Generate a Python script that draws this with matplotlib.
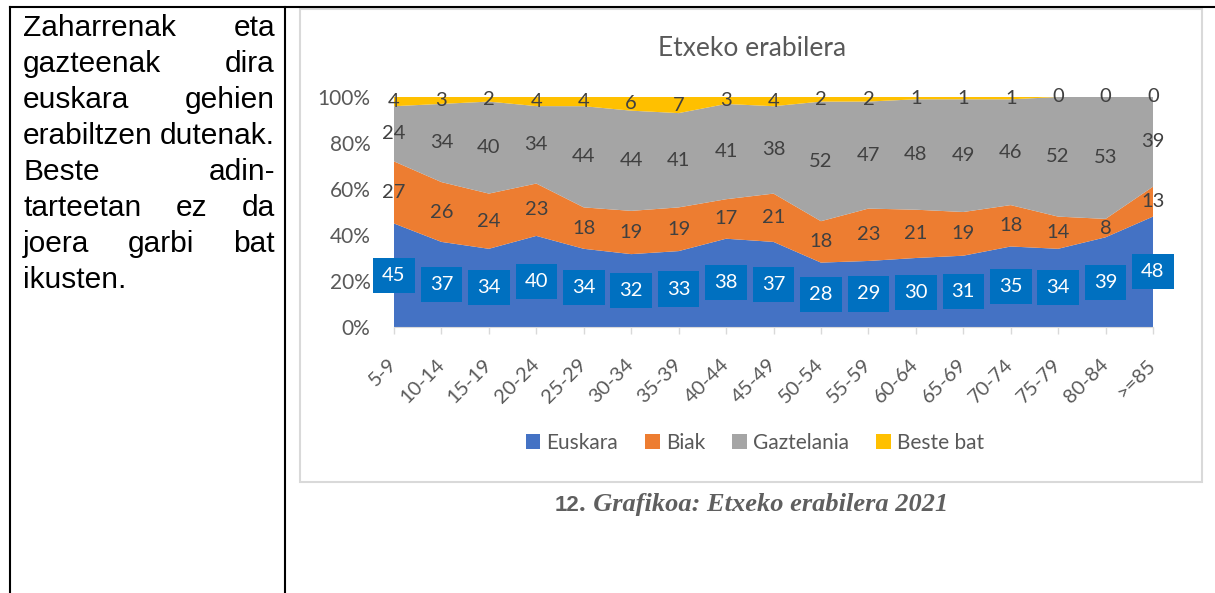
import matplotlib
matplotlib.use('Agg')
import matplotlib.pyplot as plt
import numpy as np
from matplotlib.patches import Rectangle, Patch
from matplotlib.lines import Line2D

# adin-tarteak eta erantzunak (%)
ages = ['5-9', '10-14', '15-19', '20-24', '25-29', '30-34', '35-39', '40-44',
        '45-49', '50-54', '55-59', '60-64', '65-69', '70-74', '75-79', '80-84', '>=85']
euskara = [45, 37, 34, 40, 34, 32, 33, 38, 37, 28, 29, 30, 31, 35, 34, 39, 48]
biak = [27, 26, 24, 23, 18, 19, 19, 17, 21, 18, 23, 21, 19, 18, 14, 8, 13]
gaztelania = [24, 34, 40, 34, 44, 44, 41, 41, 38, 52, 47, 48, 49, 46, 52, 53, 39]
beste = [4, 3, 2, 4, 4, 6, 7, 3, 4, 2, 2, 1, 1, 1, 0, 0, 0]
series_names = ['Euskara', 'Biak', 'Gaztelania', 'Beste bat']
colors = ['#4472C4', '#ED7D31', '#A5A5A5', '#FFC000']
yticks = [0, 20, 40, 60, 80, 100]

text_lines = [['Zaharrenak', 'eta'], ['gazteenak', 'dira'], ['euskara', 'gehien'],
              ['erabiltzen', 'dutenak.'], ['Beste', 'adin-'], ['tarteetan', 'ez', 'da'],
              ['joera', 'garbi', 'bat'], ['ikusten.']]

W, H = 1215, 593
CHART_FONT = 'Lato'
GREY = '#595959'
DARK = '#404040'


def fx(px):
    return px / W


def fy(py):
    return 1 - py / H


fig = plt.figure(figsize=(W / 100, H / 100), dpi=100)

# table lines
for xs, ys in [((10, W), (7, 7)), ((10, 10), (7, H)), ((285, 285), (7, H))]:
    fig.add_artist(Line2D([fx(v) for v in xs], [fy(v) for v in ys],
                          color='black', lw=1.5, transform=fig.transFigure))

# chart frame
fig.add_artist(Rectangle((fx(300), fy(482)), fx(1202) - fx(300), fy(9) - fy(482),
                         transform=fig.transFigure, fill=False,
                         edgecolor='#d9d9d9', lw=1.5))

ax = fig.add_axes([fx(394), fy(327), fx(1153) - fx(394), fy(97) - fy(327)])
vals = np.array([euskara, biak, gaztelania, beste], dtype=float)
pct = vals / vals.sum(axis=0) * 100
x = np.arange(len(ages))
ax.stackplot(x, pct, colors=colors, linewidth=0)

cum = np.cumsum(pct, axis=0)
for i, row in enumerate(vals):
    mids = cum[i] - pct[i] / 2
    for xi, (m, v) in enumerate(zip(mids, row)):
        if i == 0:
            ax.text(xi, m, '%d' % v, ha='center', va='center', color='white',
                    fontsize=14.5, family=CHART_FONT,
                    bbox=dict(boxstyle='square,pad=0.45', fc='#0070C0', ec='none'))
        else:
            ax.text(xi, m, '%d' % v, ha='center', va='center', color=DARK,
                    fontsize=14.5, family=CHART_FONT)

ax.set_xlim(0, len(ages) - 1)
ax.set_ylim(0, 100)
ax.set_yticks(yticks)
ax.set_yticklabels(['%d%%' % t for t in yticks], family=CHART_FONT, fontsize=15, color=GREY)
ax.set_xticks(x)
ax.set_xticklabels(ages, family=CHART_FONT, fontsize=14.5, color=GREY,
                   rotation=45, ha='right', va='center', rotation_mode='anchor')
ax.tick_params(axis='y', length=0, pad=17)
ax.tick_params(axis='x', length=5, color='#d9d9d9', width=1, pad=20)
for s in ['top', 'right', 'left']:
    ax.spines[s].set_visible(False)
ax.spines['bottom'].set_color('#d9d9d9')

fig.text(fx(752), fy(48), 'Etxeko erabilera', ha='center', va='center',
         family=CHART_FONT, fontsize=19, color=GREY)

handles = [Patch(facecolor=c, edgecolor='none') for c in colors]
fig.legend(handles, series_names, loc='center', bbox_to_anchor=(fx(755), fy(443)),
           ncol=4, frameon=False, prop={'family': CHART_FONT, 'size': 15},
           handlelength=0.7, handleheight=0.7, handletextpad=0.3,
           columnspacing=1.3, labelcolor=GREY)

# left column, justified text
fig.canvas.draw()
renderer = fig.canvas.get_renderer()
left, right = 23, 275
for li, words in enumerate(text_lines):
    base = 36 + 36 * li
    arts = [fig.text(0, fy(base), w, family='Liberation Sans', fontsize=21.5,
                     color='black', va='baseline', ha='left') for w in words]
    widths = [a.get_window_extent(renderer).width for a in arts]
    if len(words) == 1:
        gap = 0
    else:
        gap = (right - left - sum(widths)) / (len(words) - 1)
    pos = left
    for a, w in zip(arts, widths):
        a.set_x(fx(pos))
        pos += w + gap

# caption: bold sans number, bold italic serif rest
num = fig.text(fx(555), fy(511), '12', family='Liberation Sans', weight='bold',
               fontsize=16, color='#5f5f5f', va='baseline', ha='left')
nw = num.get_window_extent(renderer).width
fig.text(fx(555 + nw), fy(511), '. Grafikoa: Etxeko erabilera 2021',
         family='Liberation Serif', weight='bold', style='italic', fontsize=19,
         color='#5f5f5f', va='baseline', ha='left')

fig.savefig('out.png', dpi=100)
